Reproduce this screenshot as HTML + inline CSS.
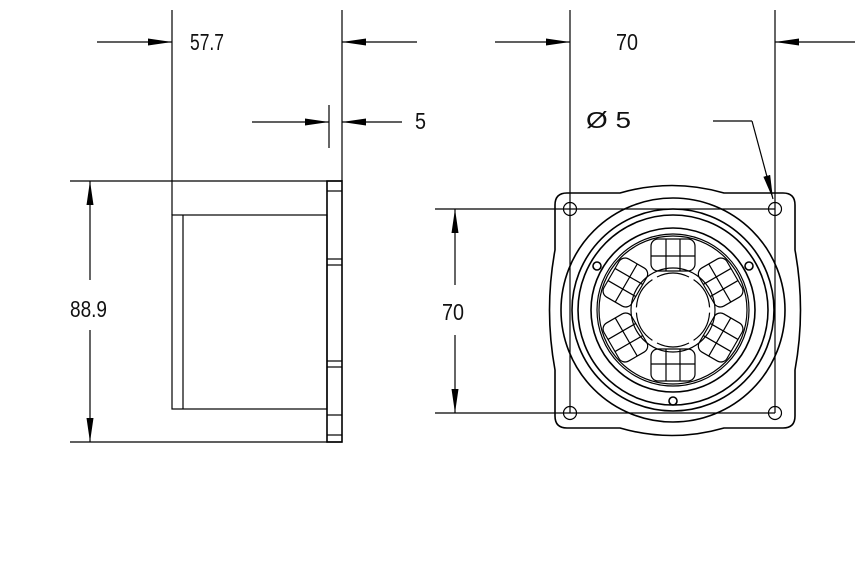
<!DOCTYPE html>
<html><head><style>
html,body{margin:0;padding:0;background:#fff;}
svg{display:block;}
text{font-family:"Liberation Sans",sans-serif;font-size:23px;fill:#111;}
</style></head><body>
<svg width="855" height="570" viewBox="0 0 855 570" xmlns="http://www.w3.org/2000/svg">
<defs>
<marker id="a" viewBox="0 0 10 10" refX="10" refY="5" markerWidth="24" markerHeight="10" markerUnits="userSpaceOnUse" orient="auto" preserveAspectRatio="none"><path d="M0,1.5 L10,5 L0,8.5 z" fill="#000"/></marker>
</defs>
<g stroke="#000" fill="none" stroke-width="1.2">
<line x1="172" y1="10" x2="172" y2="215"/>
<line x1="342" y1="10" x2="342" y2="181"/>
<line x1="97" y1="42" x2="172" y2="42" marker-end="url(#a)"/>
<line x1="417" y1="42" x2="342" y2="42" marker-end="url(#a)"/>
<line x1="329" y1="105" x2="329" y2="148"/>
<line x1="252" y1="122" x2="329" y2="122" marker-end="url(#a)"/>
<line x1="402" y1="122" x2="342" y2="122" marker-end="url(#a)"/>
<line x1="70" y1="181" x2="342" y2="181"/>
<line x1="70" y1="442" x2="342" y2="442"/>
<line x1="90" y1="280" x2="90" y2="181" marker-end="url(#a)"/>
<line x1="90" y1="330" x2="90" y2="442" marker-end="url(#a)"/>
<rect x="172" y="215" width="155" height="194"/>
<line x1="183" y1="215" x2="183" y2="409"/>
<rect x="327" y="181" width="15" height="261" stroke-width="1.6"/>
<line x1="327" y1="191" x2="342" y2="191"/>
<line x1="327" y1="259" x2="342" y2="259"/>
<line x1="327" y1="265" x2="342" y2="265"/>
<line x1="327" y1="361" x2="342" y2="361"/>
<line x1="327" y1="367" x2="342" y2="367"/>
<line x1="327" y1="415" x2="342" y2="415"/>
<line x1="327" y1="435" x2="342" y2="435"/>
<line x1="570" y1="10" x2="570" y2="209"/>
<line x1="775" y1="10" x2="775" y2="209"/>
<line x1="495" y1="42" x2="570" y2="42" marker-end="url(#a)"/>
<line x1="855" y1="42" x2="775" y2="42" marker-end="url(#a)"/>
<polyline points="713,121 752,121"/>
<line x1="752" y1="121" x2="773" y2="199" marker-end="url(#a)"/>
<line x1="435" y1="209" x2="775" y2="209"/>
<line x1="435" y1="413" x2="775" y2="413"/>
<line x1="455" y1="285" x2="455" y2="209" marker-end="url(#a)"/>
<line x1="455" y1="335" x2="455" y2="413" marker-end="url(#a)"/>
<line x1="570" y1="209" x2="570" y2="413"/>
<line x1="775" y1="209" x2="775" y2="413"/>
<path stroke-width="1.6" d="M567,193 L620,193 Q672,178 724,193 L783,193 Q795,193 795,205 L795,250 Q806,310 795,370 L795,416 Q795,428 783,428 L724,428 Q672,443 620,428 L567,428 Q555,428 555,416 L555,370 Q544,310 555,250 L555,205 Q555,193 567,193 Z"/>
<circle cx="570" cy="209" r="6.5"/><circle cx="775" cy="209" r="6.5"/>
<circle cx="570" cy="413" r="6.5"/><circle cx="775" cy="413" r="6.5"/>
<circle cx="673" cy="310" r="112" stroke-width="1.6"/>
<circle cx="673" cy="310" r="101" stroke-width="1.6"/>
<circle cx="673" cy="310" r="95" stroke-width="1.6"/>
<circle cx="673" cy="310" r="82" stroke-width="1.6"/>
<circle cx="673" cy="310" r="76"/>
<circle cx="673" cy="310" r="74"/>
<circle cx="673" cy="310" r="42"/>
<circle cx="597" cy="266" r="4" stroke-width="1.6"/>
<circle cx="749" cy="266" r="4" stroke-width="1.6"/>
<circle cx="673" cy="401" r="4" stroke-width="1.6"/>
<g id="mag">
<rect x="651" y="239" width="44" height="32" rx="7"/>
<line x1="651" y1="256" x2="695" y2="256"/>
<line x1="666" y1="239" x2="666" y2="271"/>
<line x1="680" y1="239" x2="680" y2="271"/>
<path d="M657,277 Q673,269 689,277"/>
</g>
<use href="#mag" transform="rotate(60 673 310)"/>
<use href="#mag" transform="rotate(120 673 310)"/>
<use href="#mag" transform="rotate(180 673 310)"/>
<use href="#mag" transform="rotate(240 673 310)"/>
<use href="#mag" transform="rotate(300 673 310)"/>
</g>
<text x="190" y="50" textLength="34" lengthAdjust="spacingAndGlyphs">57.7</text>
<text x="415" y="129" textLength="11" lengthAdjust="spacingAndGlyphs">5</text>
<text x="70" y="317" textLength="37" lengthAdjust="spacingAndGlyphs">88.9</text>
<text x="616" y="50" textLength="22" lengthAdjust="spacingAndGlyphs">70</text>
<text x="586" y="128" textLength="45" lengthAdjust="spacingAndGlyphs">Ø  5</text>
<text x="442" y="320" textLength="22" lengthAdjust="spacingAndGlyphs">70</text>
</svg>
</body></html>
